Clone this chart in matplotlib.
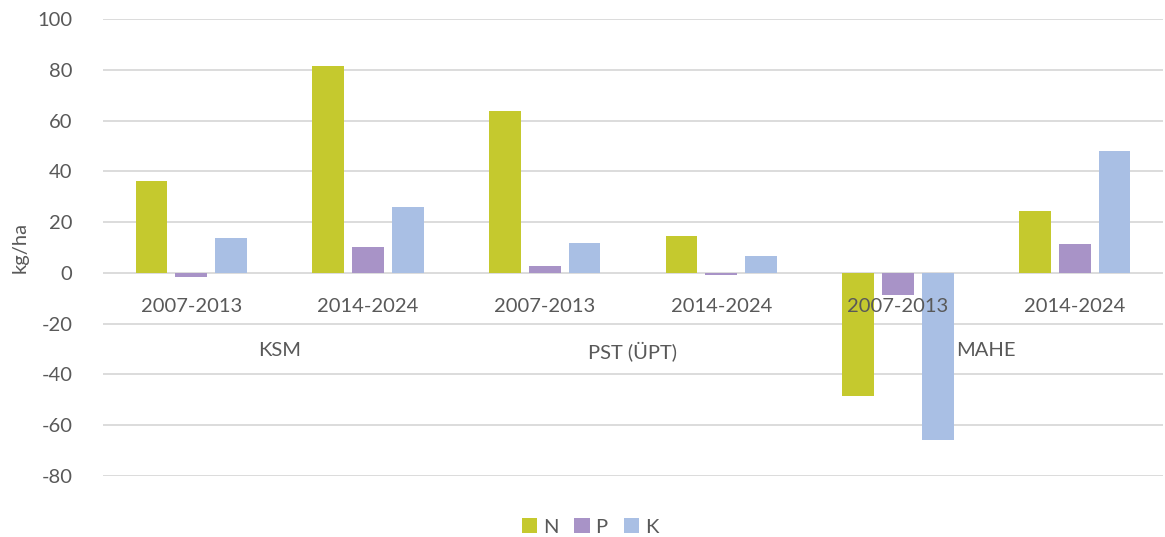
import numpy as np
import matplotlib.pyplot as plt

periods = ["2007-2013", "2014-2024", "2007-2013", "2014-2024", "2007-2013", "2014-2024"]
groups = ["KSM", "PST (ÜPT)", "MAHE"]

n_vals = [36, 81.5, 63.8, 14.4, -48.4, 24.4]
p_vals = [-1.5, 10.2, 2.8, -0.7, -8.7, 11.4]
k_vals = [13.8, 25.8, 11.8, 6.7, -65.7, 48]

series = [("N", n_vals, "#C5C92E"), ("P", p_vals, "#A893C7"), ("K", k_vals, "#A9BFE4")]

plt.rcParams['font.family'] = ['Lato', 'DejaVu Sans']
plt.rcParams['axes.unicode_minus'] = False
txt = "#595959"
fs = 14.5

fig = plt.figure(figsize=(11.65, 5.37), dpi=100)
ax = fig.add_axes([103/1165, 1 - 476/537, (1163-103)/1165, (476-19)/537])

x = np.arange(len(periods))
w = 0.18
step = 0.225
for i, (name, vals, col) in enumerate(series):
    ax.bar(x + (i - 1) * step, vals, width=w, color=col, label=name, zorder=3)

ax.set_xlim(-0.5, len(periods) - 0.5)
ax.set_ylim(-80, 100)
ax.set_yticks(range(-80, 101, 20))
ax.grid(axis='y', color='#D9D9D9', linewidth=1.3, zorder=0)
for s in ax.spines.values():
    s.set_visible(False)
ax.tick_params(axis='y', length=0, labelsize=fs, colors=txt, pad=22)
ax.set_xticks([])
ax.set_ylabel("kg/ha", fontsize=fs, color=txt, labelpad=6)

# category labels under the zero line
for xi, lab in zip(x, periods):
    ax.annotate(lab, (xi, 0), xytext=(0, -24), textcoords='offset points',
                ha='center', va='center', fontsize=fs, color=txt)
for gi, g in enumerate(groups):
    ax.annotate(g, (2 * gi + 0.5, 0), xytext=(0, -56), textcoords='offset points',
                ha='center', va='center', fontsize=fs, color=txt)

ax.legend(loc='center', bbox_to_anchor=(590/1165, 1 - 527/537), bbox_transform=fig.transFigure,
          ncol=3, frameon=False, fontsize=fs, labelcolor=txt, handlelength=0.75,
          handleheight=0.75, handletextpad=0.3, columnspacing=0.8)

fig.savefig("out.png", dpi=100)
